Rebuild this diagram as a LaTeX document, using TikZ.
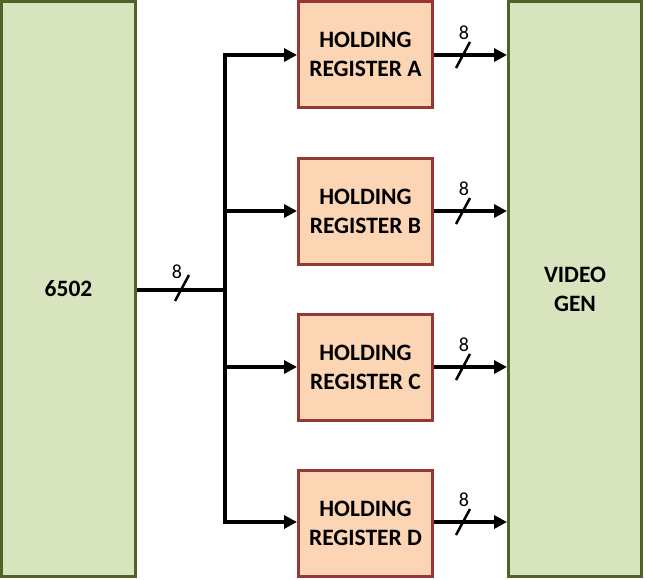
\documentclass[tikz,border=0pt]{standalone}
\usepackage{fontspec}
\setmainfont{Carlito}
\usetikzlibrary{arrows.meta}
\definecolor{gfill}{HTML}{D7E4BD}
\definecolor{gline}{HTML}{4F6228}
\definecolor{rfill}{HTML}{FCD5B5}
\definecolor{rline}{HTML}{953735}
\tikzset{
  bigbox/.style={draw=gline,fill=gfill,line width=3pt,inner sep=0pt,font=\fontsize{23.5}{29}\selectfont\bfseries,align=center},
  regbox/.style={draw=rline,fill=rfill,line width=3pt,inner sep=0pt,font=\fontsize{23.5}{29}\selectfont\bfseries,align=center,minimum width=134pt,minimum height=106pt},
  bus/.style={line width=4pt},
  busarrow/.style={line width=4pt,-{Triangle[length=13pt,width=13pt]}},
  slash/.style={line width=2.5pt},
  widthlbl/.style={font=\fontsize{20}{22}\selectfont,inner sep=0pt}
}
\begin{document}
\begin{tikzpicture}[x=1pt,y=1pt]
\useasboundingbox (0,0) rectangle (645,-579);
\node[bigbox,minimum width=134pt,minimum height=575pt] (cpu) at (68.5,-289) {6502};
\node[bigbox,minimum width=133pt,minimum height=575pt] (vid) at (575,-289) {VIDEO\\GEN};
\node[regbox] (ra) at (365.5,-54.5) {HOLDING\\REGISTER A};
\node[regbox] (rb) at (365.5,-211) {HOLDING\\REGISTER B};
\node[regbox] (rc) at (365.5,-367) {HOLDING\\REGISTER C};
\node[regbox] (rd) at (365.5,-523) {HOLDING\\REGISTER D};
\coordinate (jn) at (225,-290);
\coordinate (ja) at (225,-55);
\coordinate (jb) at (225,-211);
\coordinate (jc) at (225,-367);
\coordinate (jd) at (225,-522);
\draw[bus] (cpu.east |- jn) -- (jn);
\draw[bus] ([yshift=2pt]ja) -- ([yshift=-2pt]jd);
\draw[busarrow] (ja) -- (ra.west |- ja);
\draw[busarrow] (jb) -- (rb.west |- jb);
\draw[busarrow] (jc) -- (rc.west |- jc);
\draw[busarrow] (jd) -- (rd.west |- jd);
\foreach \r/\y in {ra/-55,rb/-211,rc/-367,rd/-522}{
  \draw[busarrow] (\r.east |- 0,\y) -- (vid.west |- 0,\y);
  \draw[slash] (456,\y-13) -- (470,\y+13);
  \node[widthlbl] at (464,\y+22) {8};
}
\draw[slash] (175,-301) -- (189,-275);
\node[widthlbl] at (177,-272) {8};
\end{tikzpicture}
\end{document}
